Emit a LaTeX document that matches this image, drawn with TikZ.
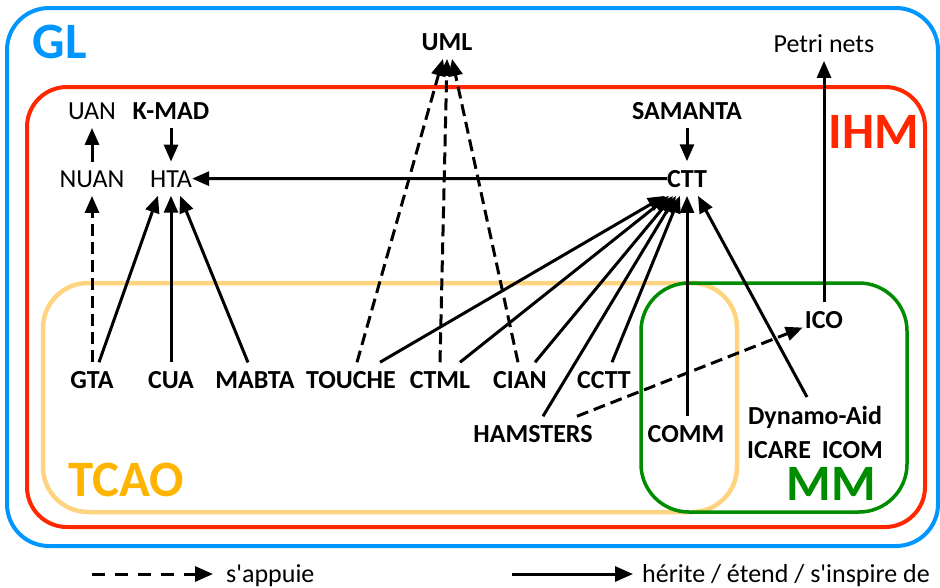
\documentclass[tikz,border=0pt]{standalone}
\usepackage{fontspec}
\setmainfont{Carlito}[Ligatures=TeXOff]
\usetikzlibrary{arrows.meta}
\definecolor{glblue}{RGB}{0,150,255}
\definecolor{ihmred}{RGB}{255,38,0}
\definecolor{tcaobox}{RGB}{255,212,128}
\definecolor{tcaotext}{RGB}{255,180,0}
\definecolor{mmgreen}{RGB}{0,140,0}
\begin{document}
\begin{tikzpicture}[x=1pt,y=-1pt,
  lbl/.style={anchor=base, inner xsep=0pt, inner ysep=8.5pt, font=\fontsize{26}{30}\selectfont},
  blbl/.style={anchor=base, inner xsep=0pt, inner ysep=8.5pt, font=\fontsize{26}{30}\selectfont\bfseries},
  big/.style={anchor=base, inner sep=0pt, font=\fontsize{51}{56}\selectfont\bfseries},
  legtxt/.style={anchor=base west, inner sep=0pt, font=\fontsize{26}{30}\selectfont},
  arr/.style={line width=3pt, -{Triangle[length=17pt,width=14pt]}},
  dep/.style={arr, dash pattern=on 12pt off 6pt},
  legarr/.style={line width=3pt, -{Triangle[length=18pt,width=15pt]}},
  legdep/.style={legarr, dash pattern=on 13pt off 10pt}
]
\useasboundingbox (0,0) rectangle (940,587);
% frames
\draw[glblue, line width=4pt, rounded corners=42pt] (7,8) rectangle (938,546);
\draw[ihmred, line width=4pt, rounded corners=40pt] (27,87) rectangle (925,527);
\draw[tcaobox, line width=4.5pt, rounded corners=45pt] (43,283) rectangle (737,512);
\draw[mmgreen, line width=3.5pt, rounded corners=48pt] (641,283) rectangle (907,512);
% big labels
\node[big, text=glblue] (gl) at (60,58) {GL};
\node[big, text=ihmred] (ihm) at (874,148) {IHM};
\node[big, text=tcaotext] (tcao) at (126,496) {TCAO};
\node[big, text=mmgreen] (mm) at (831,500) {MM};
% nodes
\node[blbl] (uml) at (447,50) {UML};
\node[lbl] (petri) at (824,52) {Petri nets};
\node[lbl] (uan) at (92,119) {UAN};
\node[blbl] (kmad) at (171,119) {K-MAD};
\node[lbl] (nuan) at (92,187) {NUAN};
\node[lbl] (hta) at (171,187) {HTA};
\node[blbl] (samanta) at (687,119) {SAMANTA};
\node[blbl] (ctt) at (687,187) {CTT};
\node[blbl] (gta) at (92,388) {GTA};
\node[blbl] (cua) at (171,388) {CUA};
\node[blbl] (mabta) at (255,388) {MABTA};
\node[blbl] (touche) at (351,388) {TOUCHE};
\node[blbl] (ctml) at (440,388) {CTML};
\node[blbl] (cian) at (520,388) {CIAN};
\node[blbl] (cctt) at (604,388) {CCTT};
\node[blbl] (hamsters) at (533,442) {HAMSTERS};
\node[blbl] (comm) at (686,442) {COMM};
\node[blbl] (dyn) at (815,424) {Dynamo-Aid};
\node[blbl] (icare) at (815,458) {ICARE\hspace{11pt}ICOM};
\node[blbl] (ico) at (824,328) {ICO};
% connectors
\draw[arr] (nuan) -- (uan);
\draw[arr] (kmad) -- (hta);
\draw[arr] (ctt) -- (hta);
\draw[arr] (samanta) -- (ctt);
\draw[dep] (gta.north) -- (nuan.south);
\draw[arr] ([xshift=7pt]gta.north) -- ([xshift=-13pt]hta.south);
\draw[arr] (cua.north) -- (hta.south);
\draw[arr] ([xshift=-7pt]mabta.north) -- ([xshift=9pt]hta.south);
\draw[dep] ([xshift=6pt]touche.north) -- ([xshift=-4pt]uml.south);
\draw[dep] (ctml.north) -- (uml.south);
\draw[dep] ([xshift=-2pt]cian.north) -- ([xshift=5pt]uml.south);
\draw[arr] ([xshift=29pt]touche.north) -- ([xshift=-22pt]ctt.south);
\draw[arr] ([xshift=20pt]ctml.north) -- ([xshift=-18pt]ctt.south);
\draw[arr] ([xshift=15pt]cian.north) -- ([xshift=-14pt]ctt.south);
\draw[arr] ([xshift=10pt]hamsters.north) -- ([xshift=-11pt]ctt.south);
\draw[arr] ([xshift=8pt]cctt.north) -- ([xshift=-7pt]ctt.south);
\draw[arr] ([xshift=1pt]comm.north) -- (ctt.south);
\draw[arr] ([xshift=-8pt]dyn.north) -- ([xshift=11pt]ctt.south);
\draw[dep] ([xshift=44pt]hamsters.north) -- ([shift={(-2,8)}]ico.west);
\draw[arr] (ico) -- (petri);
% legend
\coordinate (d1) at (92,574);
\coordinate (d2) at (213,574);
\draw[legdep] (d1) -- (d2);
\node[legtxt] (ld) at (226,582) {s'appuie};
\coordinate (s1) at (512,574);
\coordinate (s2) at (633,574);
\draw[legarr] (s1) -- (s2);
\node[legtxt] (ls) at (642,582) {hérite / étend / s'inspire de};
\end{tikzpicture}
\end{document}
